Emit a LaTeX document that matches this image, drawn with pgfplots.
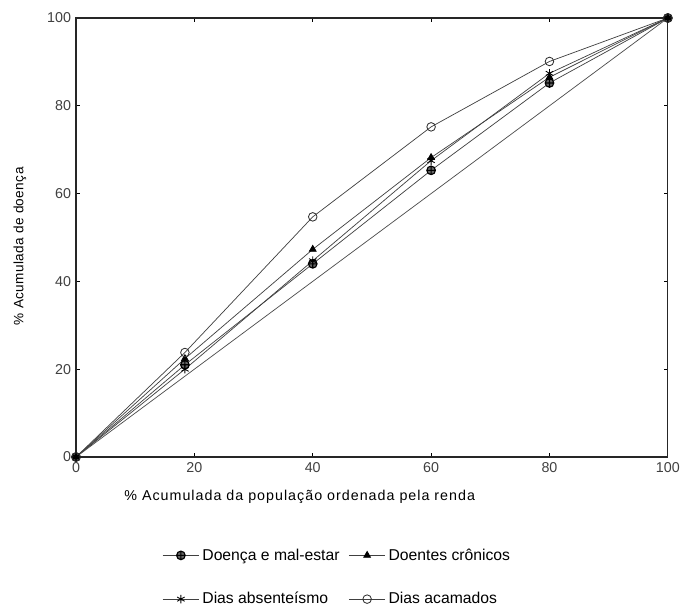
\documentclass[border=0pt]{standalone}
\usepackage{fontspec}
\setmainfont{Liberation Sans}
\usepackage{pgfplots}
\pgfplotsset{compat=1.18}
\begin{document}
\begin{tikzpicture}
\begin{axis}[
  name=ax,
  scale only axis,
  width=14.56cm, height=10.80cm,
  xmin=0, xmax=100, ymin=0, ymax=100,
  axis line style={black!85, line width=0.9pt},
  xtick={0,20,40,60,80,100},
  ytick={0,20,40,60,80,100},
  tick style={black, line width=0.5pt},
  major tick length=3pt,
  tick align=inside,
  /pgf/number format/assume math mode=true,
  ticklabel style={font=\fontsize{10}{12}\selectfont, text=black!75},
  xlabel={\% Acumulada da população ordenada pela renda},
  ylabel={\% Acumulada de doença},
  every axis x label/.style={at={(rel axis cs:0.378,-0.091)}, anchor=center, font=\fontsize{10}{12}\selectfont\addfontfeature{LetterSpace=7}},
  every axis y label/.style={at={(rel axis cs:-0.095,0.48)}, rotate=90, anchor=center, font=\fontsize{9.5}{11}\selectfont\addfontfeature{LetterSpace=3}},
  legend columns=2,
  legend style={at={(rel axis cs:0.138,-0.195)}, anchor=north west, draw=none, fill=none,
    font=\fontsize{11}{13}\selectfont, row sep=0.6cm,
    /tikz/every even column/.append style={column sep=0.15cm}},
  legend cell align=left,
  legend image code/.code={\draw[mark repeat=2,mark phase=2] plot coordinates {(0cm,0cm)(0.45cm,0cm)(0.9cm,0cm)};},
  every axis plot/.append style={line width=0.5pt, draw=black!75},
]
\addplot[black!75, mark=oplus*, mark size=3pt, mark options={draw=black, fill=black!60, line width=0.8pt}]
  coordinates {(0,0) (18.4,21) (40,44.0) (60,65.3) (80,85.2) (100,100)};
\addlegendentry{Doença e mal-estar}
\addplot[black!75, mark=triangle*, mark size=2.8pt, mark options={draw=black, fill=black}]
  coordinates {(0,0) (18.4,22.4) (40,47.3) (60,68.2) (80,86.5) (100,100)};
\addlegendentry{Doentes crônicos}
\addplot[black!75, mark=asterisk, mark size=3pt, mark options={draw=black, line width=0.6pt}]
  coordinates {(0,0) (18.4,20) (40,44.7) (60,67.5) (80,87.4) (100,100)};
\addlegendentry{Dias absenteísmo}
\addplot[black!75, mark=o, mark size=3pt, mark options={draw=black!80, line width=0.6pt}]
  coordinates {(0,0) (18.4,23.8) (40,54.7) (60,75.2) (80,90.1) (100,100)};
\addlegendentry{Dias acamados}
\addplot[black!70, mark=none, forget plot] coordinates {(0,0) (100,100)};
\end{axis}
\pgfresetboundingbox
\path ([xshift=-1.87cm,yshift=-3.91cm]ax.south west) rectangle ([xshift=0.57cm,yshift=0.443cm]ax.north east);
\end{tikzpicture}
\end{document}
